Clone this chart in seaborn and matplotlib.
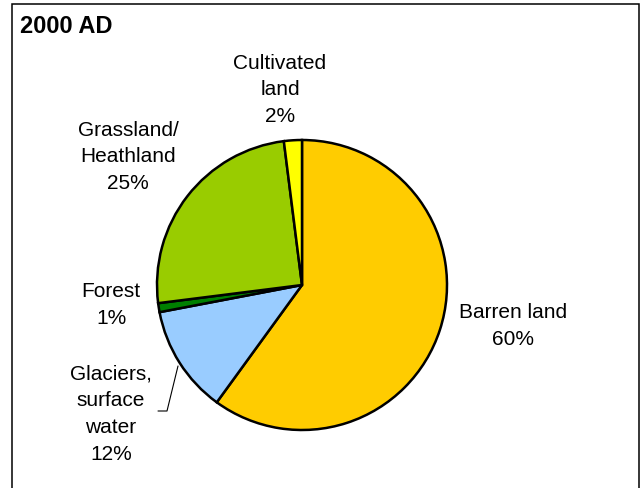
import matplotlib
matplotlib.use("Agg")
import matplotlib.pyplot as plt
import seaborn as sns
from matplotlib.patches import Rectangle

# 土地覆盖比例（2000 AD）
categories = ["Barren land", "Glaciers,\nsurface\nwater", "Forest",
              "Grassland/\nHeathland", "Cultivated\nland"]
shares = [60, 12, 1, 25, 2]
slice_colors = ["#FFCC00", "#99CCFF", "#008000", "#99CC00", "#FFFF00"]
title_text = "2000 AD"

# 标签位置（像素坐标，y 从顶部量）
label_pos = [(513, 326), (111, 414), (111, 305), (128, 157), (280, 90)]

W, H = 641, 489

sns.set_theme(style="white")
plt.rcParams["font.family"] = ["Liberation Sans", "DejaVu Sans"]

fig = plt.figure(figsize=(W / 100, H / 100), dpi=100)
ax = fig.add_axes([0, 0, 1, 1])

ax.pie(
    shares,
    colors=slice_colors,
    startangle=90,
    counterclock=False,
    center=(302, H - 286),
    radius=145,
    frame=True,
    wedgeprops=dict(edgecolor="black", linewidth=1.8),
)
# pie 会重设坐标范围，之后再设置
ax.set_xlim(0, W)
ax.set_ylim(0, H)
ax.set_aspect("equal")
ax.axis("off")

for name, val, (x, y) in zip(categories, shares, label_pos):
    ax.text(x, H - y, f"{name}\n{val}%", ha="center", va="center",
            fontsize=15, linespacing=1.52, color="black")

# 冰川标签的引线
ax.plot([178, 167, 158], [H - 367, H - 412, H - 412], color="black", lw=0.8)

ax.text(20, H - 27, title_text, ha="left", va="center",
        fontsize=17, fontweight="bold", color="black")

# 外框
ax.add_patch(Rectangle((12, -20), 627, H - 5 + 20, fill=False,
                       edgecolor="black", linewidth=1.1, clip_on=False))

plt.savefig("out.png", dpi=100)
plt.close()
